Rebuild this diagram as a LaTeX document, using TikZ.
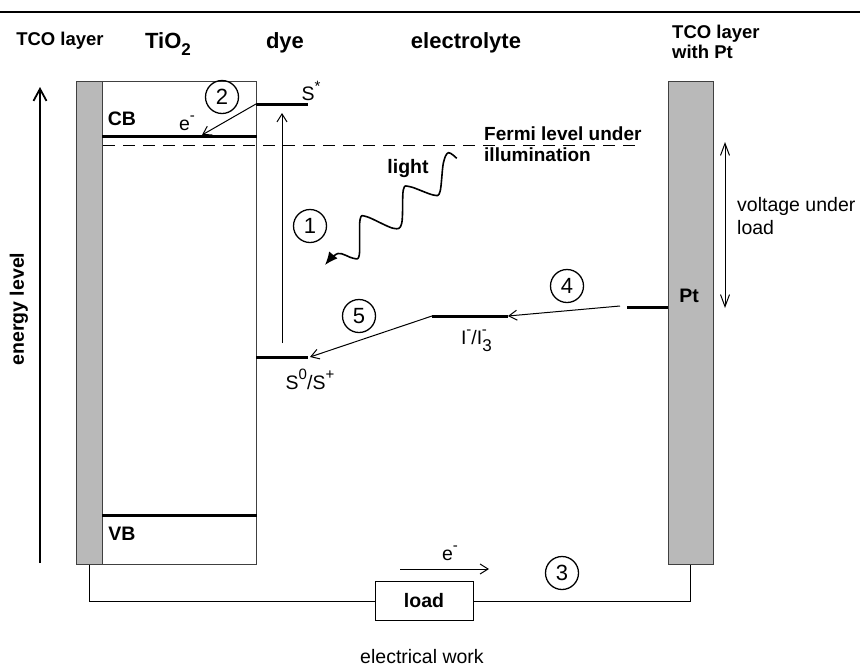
\documentclass[tikz,border=0pt]{standalone}
\usepackage{fontspec}
\setmainfont{Liberation Sans}
\usetikzlibrary{arrows.meta}
\newcommand{\mysup}[1]{\raisebox{0.5em}{\fontsize{15}{15}\selectfont #1}}
\newcommand{\mysubs}[1]{\raisebox{-0.35em}{\fontsize{17}{17}\selectfont #1}}
\begin{document}
\begin{tikzpicture}[x=1pt,y=-1pt,
  lbl/.style={font=\fontsize{19.5}{22}\selectfont\bfseries, inner sep=0pt},
  hdr/.style={font=\fontsize{22}{24}\selectfont\bfseries, inner sep=0pt},
  reg/.style={font=\fontsize{19.5}{23}\selectfont, inner sep=0pt},
  num/.style={circle, draw, line width=1.3pt, minimum size=33pt, inner sep=0pt, font=\fontsize{22}{22}\selectfont},
  level/.style={line width=3pt},
  thinline/.style={line width=1pt},
  bar/.style={draw=black!75, line width=0.8pt, fill=gray!55, inner sep=0pt, anchor=north west},
  barb/.style={-{Straight Barb[length=8pt,width=10pt,line width=1pt]}},
]
\useasboundingbox (0,0) rectangle (860,670);
\draw[line width=2.5pt] (0,12) -- (860,12);

% headers
\node[lbl, font=\fontsize{18.5}{20}\selectfont\bfseries] (htco) at (60,41) {TCO layer};
\node[hdr] (htio) at (168,44) {TiO\mysubs{2}};
\node[hdr] (hdye) at (285,43) {dye};
\node[hdr] (hel) at (466,43) {electrolyte};
\node[lbl, font=\fontsize{18.5}{20}\selectfont\bfseries, align=left, anchor=west] (htco2) at (672,42) {TCO layer\\with Pt};

% bars and box
\node[bar, minimum width=26pt, minimum height=483pt] (tcoL) at (76,81) {};
\node[draw=black!75, line width=0.8pt, minimum width=154pt, minimum height=483pt, inner sep=0pt, anchor=north west] (tio) at (102,81) {};
\node[bar, minimum width=45pt, minimum height=483pt] (tcoR) at (668,81) {};

% energy axis
\coordinate (ea) at (40,563);
\coordinate (eb) at (40,87);
\draw[line width=2.5pt, -{Straight Barb[length=12pt,width=13pt,line width=1.8pt]}] (ea) -- (eb);
\node[lbl, rotate=90] (elev) at (19,309) {energy level};

% levels
\coordinate (cbL) at (102,136); \coordinate (cbR) at (257,136);
\coordinate (vbL) at (102,515); \coordinate (vbR) at (257,515);
\coordinate (sL) at (256,104); \coordinate (sR) at (308,104);
\coordinate (s0L) at (256,357); \coordinate (s0R) at (308,357);
\coordinate (iL) at (432,316); \coordinate (iR) at (508,316);
\coordinate (ptL) at (627,307); \coordinate (ptR) at (668,307);
\draw[level] (cbL) -- (cbR);
\draw[level] (vbL) -- (vbR);
\draw[level] (sL) -- (sR);
\draw[level] (s0L) -- (s0R);
\draw[level] (iL) -- (iR);
\draw[level] (ptL) -- (ptR);

% fermi level
\coordinate (fL) at (103,145); \coordinate (fR) at (640,145);
\draw[thinline, dash pattern=on 12pt off 8pt] (fL) -- (fR);
\node[lbl, align=left, anchor=west, font=\fontsize{19}{21}\selectfont\bfseries] (fermi) at (484,144) {Fermi level under\\illumination};

% labels
\node[lbl] (cb) at (122,119) {CB};
\node[lbl] (vb) at (122,534) {VB};
\node[reg] (e2l) at (187,123) {e\mysup{-}};
\node[reg] (sst) at (311,91) {S\mysup{*}};
\node[reg] (s0) at (310,379) {S\mysup{0}/S\mysup{+}};
\node[reg] (ii) at (474,341) {I\mysup{-}/I\mysubs{3}\hspace{-0.5em}\mysup{-}};
\node[lbl] (pt) at (689,296) {Pt};
\node[lbl] (light) at (408,168) {light};
\node[reg, align=left, anchor=west] (volt) at (737,216) {voltage under\\load};

% process numbers
\node[num] (n2) at (222,97) {2};
\node[num] (n1) at (310,226) {1};
\node[num] (n5) at (359,316) {5};
\node[num] (n4) at (567,286) {4};
\node[num] (n3) at (562,573) {3};

% arrows
\coordinate (e2) at (202,135);
\draw[thinline, barb] (sL) -- (e2);
\coordinate (a1s) at (282,343); \coordinate (a1e) at (282,113);
\draw[thinline, barb] (a1s) -- (a1e);
\coordinate (s0tip) at (310,357);
\draw[thinline, barb] (iL) -- (s0tip);
\coordinate (a4s) at (620,306);
\draw[thinline, barb] (a4s) -- (iR);
\coordinate (va) at (725,142); \coordinate (vb2) at (725,308);
\draw[thinline, {Straight Barb[length=12pt,width=9pt,line width=1pt]}-{Straight Barb[length=12pt,width=9pt,line width=1pt]}] (va) -- (vb2);

% light
\draw[line width=1.6pt, line join=round, -{Latex[length=13pt,width=11pt]}]
  plot[smooth, tension=0.55] coordinates {(456.7,158.3) (448.3,152.7) (443.3,163.3) (440,191.7) (433.3,195) (410,186.7) (403.3,190) (401.7,223.3) (393.3,228.3) (366.7,216.7) (360,220) (359.3,255) (353.3,258.3) (338,253.5) (325,265)};

% circuit
\node[draw, line width=1pt, minimum width=98pt, minimum height=39pt, lbl] (load) at (424,601) {load};
\draw[thinline] (tcoL.south) |- (load.west);
\draw[thinline] (load.east) -| (tcoR.south);
\coordinate (ea1) at (400,569); \coordinate (ea2) at (489,569);
\draw[thinline, barb] (ea1) -- (ea2);
\node[reg] (e3) at (450,553) {e\mysup{-}};
\node[reg] (work) at (422,657) {electrical work};
\end{tikzpicture}
\end{document}
